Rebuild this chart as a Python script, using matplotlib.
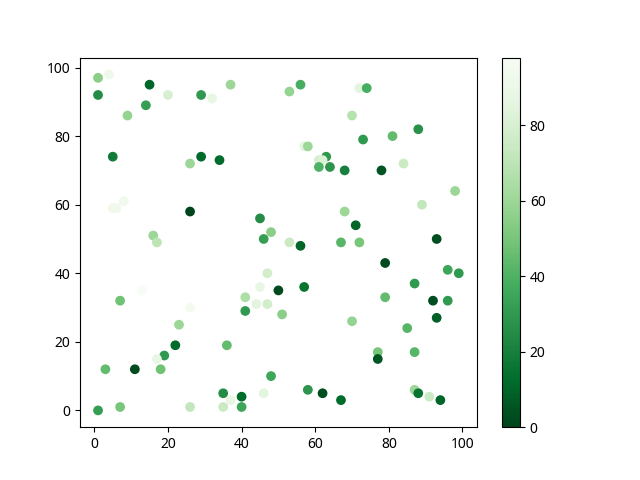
import matplotlib
matplotlib.use("Agg")
import matplotlib.pyplot as plt
import numpy as np

plt.rcParams['font.family'] = ['Noto Sans', 'DejaVu Sans']

x_vals = [1, 4, 15, 20, 1, 29, 32, 37, 14, 9, 5, 26, 29, 34, 5, 6, 8, 26, 45, 48,
          46, 16, 17, 53, 56, 72, 74, 70, 88, 81, 73, 57, 58, 84, 63, 61, 62, 61, 64, 68,
          78, 98, 89, 68, 71, 93, 67, 72, 53, 56, 47, 45, 50, 41, 44, 47, 41, 51, 13, 7,
          26, 23, 22, 36, 19, 17, 3, 11, 18, 48, 35, 37, 40, 46, 1, 7, 26, 35, 40, 79,
          96, 99, 57, 87, 79, 92, 96, 93, 70, 85, 77, 77, 87, 58, 62, 67, 87, 88, 91, 94]
y_vals = [97, 98, 95, 92, 92, 92, 91, 95, 89, 86, 74, 72, 74, 73, 59, 59, 61, 58, 56, 52,
          50, 51, 49, 93, 95, 94, 94, 86, 82, 80, 79, 77, 77, 72, 74, 73, 73, 71, 71, 70,
          70, 64, 60, 58, 54, 50, 49, 49, 49, 48, 40, 36, 35, 33, 31, 31, 29, 28, 35, 32,
          30, 25, 19, 19, 16, 15, 12, 12, 12, 10, 5, 3, 4, 5, 0, 1, 1, 1, 1, 43,
          41, 40, 36, 37, 33, 32, 32, 27, 26, 24, 17, 15, 17, 6, 5, 3, 6, 5, 4, 3]
c_vals = [55, 92, 10, 80, 25, 30, 88, 60, 32, 58, 18, 60, 12, 12, 93, 93, 93, 0, 25, 55,
          32, 60, 70, 58, 38, 85, 38, 68, 27, 45, 30, 85, 60, 75, 30, 80, 82, 40, 28, 20,
          5, 60, 72, 60, 10, 3, 42, 50, 75, 10, 78, 88, 2, 65, 85, 78, 30, 55, 98, 48,
          95, 60, 12, 45, 30, 88, 45, 2, 48, 35, 25, 88, 12, 85, 32, 50, 72, 75, 35, 2,
          35, 30, 15, 30, 45, 3, 30, 8, 58, 42, 50, 5, 42, 28, 3, 12, 60, 15, 75, 10]

fig, ax = plt.subplots(figsize=(6.4, 4.8), dpi=100)
sc = ax.scatter(x_vals, y_vals, c=c_vals, cmap='Greens_r')
fig.colorbar(sc, ax=ax)
fig.savefig('out.png', dpi=100)
